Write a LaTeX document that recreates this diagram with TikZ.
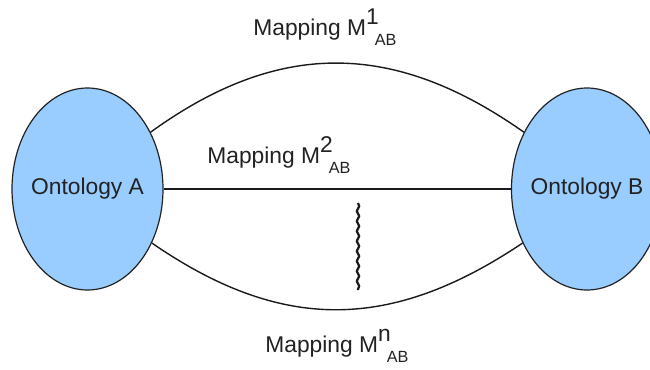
\documentclass[tikz,border=0pt]{standalone}
\usepackage{fontspec}
\setmainfont{Liberation Sans}
\usepackage{xcolor}
\usetikzlibrary{shapes.geometric,decorations.pathmorphing}
\definecolor{ontoFill}{HTML}{99CCFF}
\definecolor{ontoDraw}{HTML}{222222}
\definecolor{lineCol}{HTML}{1A1A1A}
\definecolor{textCol}{HTML}{222222}
\newcommand{\maplabel}[1]{Mapping M\raisebox{5.5pt}{#1}\hspace{-2pt}\raisebox{-5pt}{\fontsize{8.1}{9}\selectfont AB}}

\begin{document}
\begin{tikzpicture}[
  x=0.5pt, y=-0.5pt,
  font=\fontsize{11.4}{14}\selectfont,
  onto/.style={ellipse, draw=ontoDraw, line width=0.6pt, fill=ontoFill,
               minimum width=75.5pt, minimum height=101pt, inner sep=0pt,
               inner xsep=-12pt, text=textCol},
  link/.style={draw=lineCol, line width=0.7pt},
  lbl/.style={anchor=base west, inner sep=0pt, text=textCol},
]
\useasboundingbox (0,0) rectangle (650,370);
\clip (0,0) rectangle (650,370);

% ---- Ontologies ----
\node[onto] (ontA) at (87.5,189) {Ontology A};
\node[onto] (ontB) at (587,189)  {Ontology B};

% ---- Mappings ----
\draw[link] (ontA.42) .. controls (278,40) and (393,40) .. (ontB.138);
\draw[link] (ontA.east) -- (ontB.west);
\draw[link] (ontA.-40) .. controls (281,332) and (390,332) .. (ontB.-140);

% ---- "and so on" marker ----
\coordinate (dotsTop) at (358,203);
\coordinate (dotsBot) at (358,290);
\draw[draw=lineCol, line width=1.1pt,
      decorate, decoration={snake, amplitude=0.6pt, segment length=5pt}] (dotsTop) -- (dotsBot);

% ---- Labels ----
\node[lbl] (map1) at (253,35)  {\maplabel{1}};
\node[lbl] (map2) at (207,163) {\maplabel{2}};
\node[lbl] (mapn) at (265,352) {\maplabel{n}};

\end{tikzpicture}
\end{document}
